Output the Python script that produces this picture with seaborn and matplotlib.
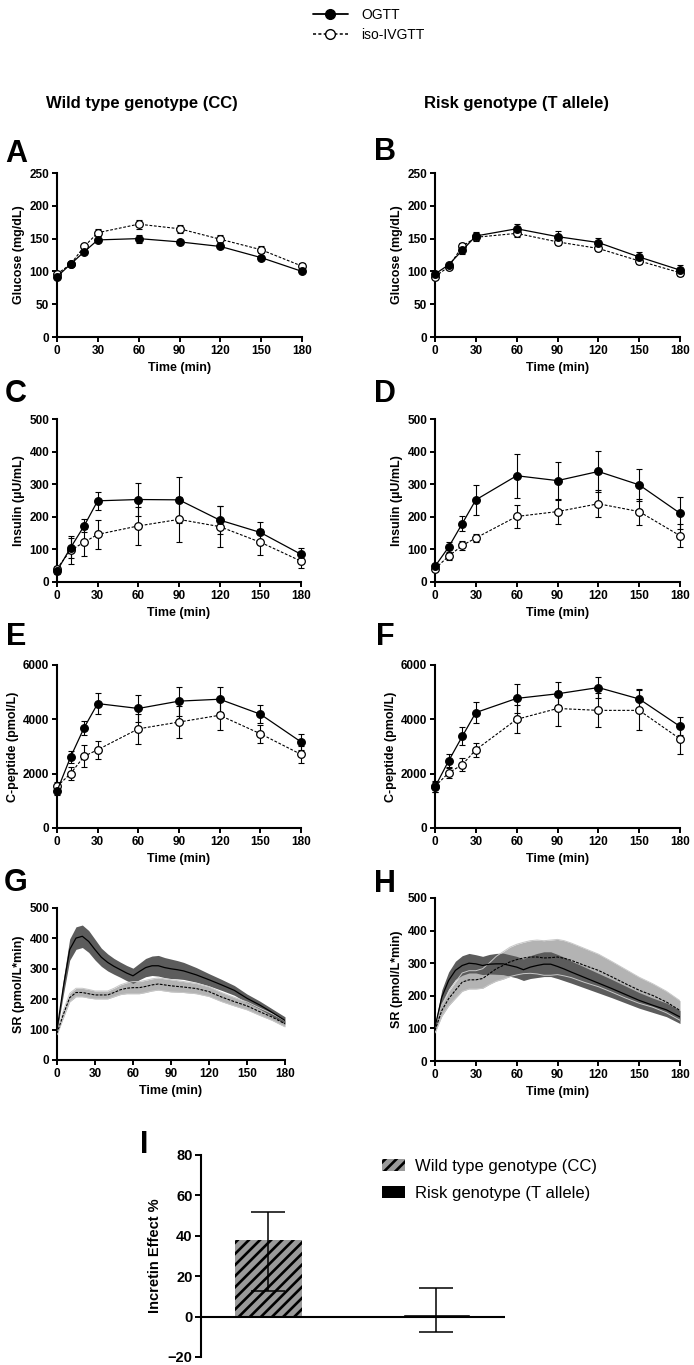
import numpy as np
import pandas as pd
import matplotlib
matplotlib.use('Agg')
import matplotlib.pyplot as plt
import seaborn as sns
from matplotlib.lines import Line2D
from matplotlib.patches import Patch

sns.set_theme(style='ticks')
plt.rcParams['font.family'] = ['Liberation Sans', 'DejaVu Sans']
plt.rcParams['font.weight'] = 'bold'
plt.rcParams['axes.labelweight'] = 'bold'
for k in ['text.color', 'axes.labelcolor', 'xtick.color', 'ytick.color', 'axes.edgecolor']:
    plt.rcParams[k] = 'black'
plt.rcParams['hatch.linewidth'] = 1.9

# ---------------- data ----------------
times = [0, 10, 20, 30, 60, 90, 120, 150, 180]

glu_wt_ogtt = [92, 111, 130, 148, 150, 145, 138, 121, 100]
glu_wt_ogtt_se = [3, 3, 3, 3, 6, 3, 3, 3, 3]
glu_wt_iv = [96, 111, 138, 159, 172, 165, 149, 133, 108]
glu_wt_iv_se = [3, 3, 3, 5, 7, 6, 6, 5, 5]

glu_rk_ogtt = [96, 110, 132, 154, 165, 153, 144, 122, 102]
glu_rk_ogtt_se = [3, 3, 5, 6, 8, 8, 7, 8, 8]
glu_rk_iv = [92, 107, 138, 152, 158, 145, 135, 116, 98]
glu_rk_iv_se = [3, 3, 5, 5, 6, 5, 4, 4, 5]

ins_wt_ogtt = [34, 105, 172, 249, 253, 252, 190, 152, 85]
ins_wt_ogtt_se = [8, 30, 20, 28, 50, 70, 44, 33, 19]
ins_wt_iv = [41, 97, 122, 146, 172, 192, 170, 122, 64]
ins_wt_iv_se = [8, 43, 42, 44, 57, 70, 62, 40, 20]

ins_rk_ogtt = [48, 107, 179, 252, 326, 311, 339, 298, 211]
ins_rk_ogtt_se = [8, 15, 24, 46, 67, 56, 64, 49, 49]
ins_rk_iv = [41, 79, 112, 135, 201, 216, 240, 216, 142]
ins_rk_iv_se = [6, 10, 15, 12, 35, 37, 42, 40, 35]

cp_wt_ogtt = [1360, 2610, 3690, 4580, 4400, 4670, 4740, 4190, 3170]
cp_wt_ogtt_se = [150, 220, 260, 400, 480, 530, 460, 320, 290]
cp_wt_iv = [1530, 2000, 2640, 2880, 3650, 3900, 4150, 3470, 2710]
cp_wt_iv_se = [150, 250, 400, 330, 550, 600, 550, 330, 300]

cp_rk_ogtt = [1510, 2470, 3370, 4250, 4770, 4940, 5170, 4750, 3740]
cp_rk_ogtt_se = [200, 250, 330, 370, 530, 430, 380, 360, 330]
cp_rk_iv = [1530, 2030, 2330, 2880, 4000, 4400, 4330, 4330, 3280]
cp_rk_iv_se = [200, 200, 250, 250, 520, 630, 630, 740, 550]

sr_times = [0, 5, 10, 15, 20, 25, 30, 35, 40, 45, 50, 55, 60, 65, 70, 75, 80,
            85, 90, 95, 100, 110, 120, 130, 140, 150, 160, 170, 180]

sr_wt_ogtt = [99, 240, 363, 401, 407, 390, 363, 338, 321, 308, 297, 286, 277, 291,
              304, 310, 310, 304, 300, 297, 293, 280, 264, 247, 229, 203, 181, 156, 130]
sr_wt_ogtt_band = [5, 25, 35, 37, 37, 36, 34, 30, 28, 26, 25, 25, 25, 27, 30, 32, 34,
                   33, 32, 30, 28, 24, 20, 18, 16, 14, 13, 12, 12]
sr_wt_iv = [88, 150, 205, 222, 222, 218, 214, 214, 214, 222, 231, 236, 238, 238, 242,
            247, 250, 247, 244, 242, 240, 235, 225, 207, 192, 178, 159, 141, 119]
sr_wt_iv_band = [5, 12, 14, 14, 14, 14, 13, 13, 13, 14, 16, 18, 20, 20, 20, 20, 20,
                 20, 20, 19, 18, 17, 16, 15, 14, 13, 12, 11, 10]

sr_rk_ogtt = [104, 196, 247, 278, 293, 300, 298, 293, 297, 298, 298, 293, 288, 280,
              288, 293, 297, 297, 290, 282, 273, 256, 239, 222, 204, 186, 171, 157, 135]
sr_rk_ogtt_band = [8, 22, 26, 28, 30, 30, 28, 28, 30, 32, 33, 33, 33, 33, 35, 37, 38,
                   38, 37, 36, 34, 32, 30, 28, 26, 24, 22, 21, 20]
sr_rk_iv = [94, 155, 191, 217, 242, 249, 249, 253, 268, 283, 293, 304, 311, 316, 319,
            319, 316, 317, 319, 315, 309, 293, 278, 258, 237, 217, 201, 181, 155]
sr_rk_iv_band = [8, 18, 22, 25, 28, 28, 28, 30, 33, 38, 42, 45, 47, 48, 50, 52, 53,
                 54, 54, 54, 53, 52, 50, 47, 44, 40, 36, 33, 30]

groups = ['Wild type genotype (CC)', 'Risk genotype (T allele)']
incretin = [38, 1.2]
incretin_lo = [12.9, -7.4]
incretin_hi = [52, 14]

# ---------------- figure ----------------
W, H = 694, 1365
fig = plt.figure(figsize=(W / 100, H / 100), dpi=100)


def add_ax(x0, x1, y0, y1):
    return fig.add_axes([x0 / W, 1 - y1 / H, (x1 - x0) / W, (y1 - y0) / H])


def style_ax(ax, ylim, yticks, ylabel, xlim=(0, 180), xticks=range(0, 181, 30),
             tsize=8.5, lsize=9):
    ax.set_xlim(*xlim)
    ax.set_ylim(*ylim)
    ax.set_xticks(list(xticks))
    ax.set_yticks(yticks)
    ax.spines[['top', 'right']].set_visible(False)
    for s in ['left', 'bottom']:
        ax.spines[s].set_linewidth(1.5)
        ax.spines[s].set_color('black')
    ax.tick_params(width=1.4, length=3.5, labelsize=tsize, pad=2, color='black')
    for lab in ax.get_xticklabels() + ax.get_yticklabels():
        lab.set_fontweight('bold')
    ax.set_xlabel('Time (min)', fontsize=lsize, fontweight='bold', labelpad=4)
    ax.set_ylabel(ylabel, fontsize=lsize, fontweight='bold', labelpad=3)
    ax.set_facecolor('none')


def time_panel(ax, og, og_se, iv, iv_se):
    for vals, se in [(og, og_se), (iv, iv_se)]:
        ax.errorbar(times, vals, yerr=se, fmt='none', ecolor='black', elinewidth=0.8,
                    capsize=2.5, capthick=0.8, clip_on=False, zorder=2)
    sns.lineplot(x=times, y=iv, ax=ax, color='black', linewidth=0.8,
                 linestyle=(0, (2.5, 1.5)), marker='o', markersize=5.5,
                 markerfacecolor='white', markeredgecolor='black', markeredgewidth=0.9,
                 clip_on=False, zorder=3)
    sns.lineplot(x=times, y=og, ax=ax, color='black', linewidth=0.9, marker='o',
                 markersize=5.5, markerfacecolor='black', markeredgecolor='black',
                 markeredgewidth=0.9, clip_on=False, zorder=4)


axA = add_ax(57, 302, 173, 337)
time_panel(axA, glu_wt_ogtt, glu_wt_ogtt_se, glu_wt_iv, glu_wt_iv_se)
style_ax(axA, (0, 250), range(0, 251, 50), 'Glucose (mg/dL)')

axB = add_ax(435, 680, 173, 337)
time_panel(axB, glu_rk_ogtt, glu_rk_ogtt_se, glu_rk_iv, glu_rk_iv_se)
style_ax(axB, (0, 250), range(0, 251, 50), 'Glucose (mg/dL)')

axC = add_ax(57, 301, 419, 582)
time_panel(axC, ins_wt_ogtt, ins_wt_ogtt_se, ins_wt_iv, ins_wt_iv_se)
style_ax(axC, (0, 500), range(0, 501, 100), 'Insulin (\u00b5U/mL)')

axD = add_ax(435, 680, 419, 582)
time_panel(axD, ins_rk_ogtt, ins_rk_ogtt_se, ins_rk_iv, ins_rk_iv_se)
style_ax(axD, (0, 500), range(0, 501, 100), 'Insulin (\u00b5U/mL)')

axE = add_ax(57, 301, 665, 828)
time_panel(axE, cp_wt_ogtt, cp_wt_ogtt_se, cp_wt_iv, cp_wt_iv_se)
style_ax(axE, (0, 6000), range(0, 6001, 2000), 'C-peptide (pmol/L)')

axF = add_ax(435, 680, 665, 828)
time_panel(axF, cp_rk_ogtt, cp_rk_ogtt_se, cp_rk_iv, cp_rk_iv_se)
style_ax(axF, (0, 6000), range(0, 6001, 2000), 'C-peptide (pmol/L)')


def sr_panel(ax, og, og_b, iv, iv_b):
    t = np.array(sr_times)
    og = np.array(og); og_b = np.array(og_b)
    iv = np.array(iv); iv_b = np.array(iv_b)
    ax.fill_between(t, iv - iv_b, iv + iv_b, color='#b3b3b3', lw=0, zorder=1)
    ax.fill_between(t, og - og_b, og + og_b, color='#5c5c5c', lw=0, zorder=2)
    ax.plot(t, iv + iv_b, color='#c8c8c8', lw=0.7, zorder=3)
    ax.plot(t, iv - iv_b, color='#c8c8c8', lw=0.7, zorder=3)
    sns.lineplot(x=sr_times, y=list(og), ax=ax, color='black', linewidth=0.9, zorder=4)
    sns.lineplot(x=sr_times, y=list(iv), ax=ax, color='black', linewidth=0.8,
                 linestyle=(0, (2.5, 1.2)), zorder=4)


axG = add_ax(57, 285, 908, 1060)
sr_panel(axG, sr_wt_ogtt, sr_wt_ogtt_band, sr_wt_iv, sr_wt_iv_band)
style_ax(axG, (0, 500), range(0, 501, 100), 'SR (pmol/L*min)')

axH = add_ax(435, 680, 898, 1061)
sr_panel(axH, sr_rk_ogtt, sr_rk_ogtt_band, sr_rk_iv, sr_rk_iv_band)
style_ax(axH, (0, 500), range(0, 501, 100), 'SR (pmol/L*min)')

# ---------------- panel I ----------------
axI = add_ax(201, 505, 1155, 1357)
sns.barplot(x=groups, y=incretin, hue=groups, palette=['#9a9a9a', 'black'],
            width=0.4, legend=False, ax=axI, saturation=1, errorbar=None)
axI.patches[0].set_hatch('///')
axI.patches[0].set_edgecolor('black')
axI.patches[0].set_linewidth(0)
xpos = np.arange(len(groups))
yerr = [np.array(incretin) - np.array(incretin_lo), np.array(incretin_hi) - np.array(incretin)]
axI.errorbar(xpos, incretin, yerr=yerr, fmt='none', ecolor='black', elinewidth=1.1,
             capsize=12, capthick=1.1, zorder=5)
axI.axhline(0, color='black', lw=1.5, zorder=1)
axI.set_xlim(-0.4, 1.41)
axI.set_ylim(-20, 80)
axI.set_yticks(range(-20, 81, 20))
axI.set_xticks([])
axI.spines[['top', 'right', 'bottom']].set_visible(False)
axI.spines['left'].set_linewidth(1.5)
axI.tick_params(axis='y', width=1.4, length=4, labelsize=10.5, pad=2)
for lab in axI.get_yticklabels():
    lab.set_fontweight('bold')
axI.set_xlabel('')
axI.set_ylabel('Incretin Effect %', fontsize=10.5, fontweight='bold', labelpad=4)
axI.set_facecolor('none')

# ---------------- legends & texts ----------------
h1 = Line2D([0], [0], color='black', lw=1.3, marker='o', markersize=7,
            markerfacecolor='black', markeredgecolor='black')
h2 = Line2D([0], [0], color='black', lw=1.1, linestyle=(0, (2, 1.5)), marker='o',
            markersize=7, markerfacecolor='white', markeredgecolor='black')
fig.legend([h1, h2], ['OGTT', 'iso-IVGTT'], loc='upper left',
           bbox_to_anchor=(313 / W, 1 - 8 / H), frameon=False,
           prop={'size': 10, 'weight': 'normal'}, handlelength=2.5,
           handletextpad=1.0, labelspacing=0.45, borderpad=0, borderaxespad=0)

p1 = Patch(facecolor='#9a9a9a', edgecolor='black', hatch='///', lw=0)
p2 = Patch(facecolor='black', edgecolor='black', lw=0)
fig.legend([p1, p2], groups, loc='upper left', bbox_to_anchor=(382 / W, 1 - 1159 / H),
           frameon=False, prop={'size': 12, 'weight': 'normal'}, handlelength=1.4,
           handleheight=0.75, handletextpad=0.6, labelspacing=0.7, borderpad=0,
           borderaxespad=0)

fig.text(142 / W, 1 - 108 / H, 'Wild type genotype (CC)', ha='center', va='baseline',
         fontsize=12, fontweight='bold')
fig.text(516 / W, 1 - 108 / H, 'Risk genotype (T allele)', ha='center', va='baseline',
         fontsize=12, fontweight='bold')

letters = [('A', 16, 162), ('B', 385, 160), ('C', 16, 402), ('D', 385, 402),
           ('E', 16, 645), ('F', 385, 645), ('G', 16, 891), ('H', 385, 892),
           ('I', 144, 1153)]
for L, x, y in letters:
    fig.text(x / W, 1 - y / H, L, ha='center', va='baseline', fontsize=22,
             fontweight='bold')

fig.savefig('out.png', dpi=100)
